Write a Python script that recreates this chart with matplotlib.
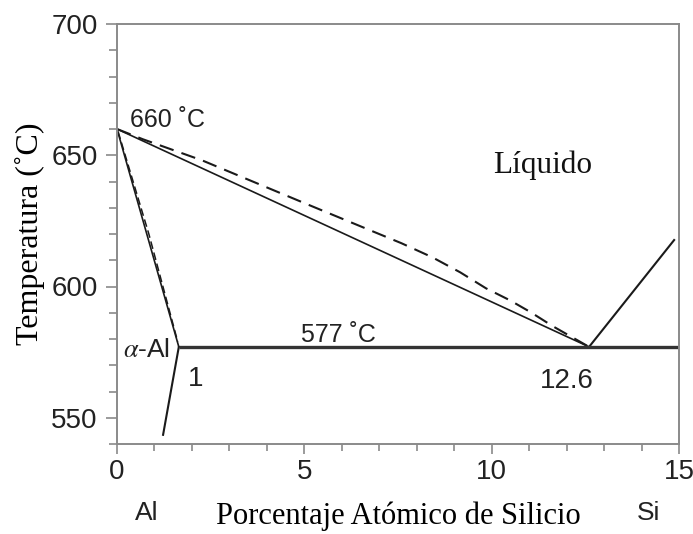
import matplotlib
matplotlib.use("Agg")
import matplotlib.pyplot as plt
from matplotlib.ticker import MultipleLocator

plt.rcParams["mathtext.fontset"] = "stix"

# Al-Si phase diagram (Al-rich side)
x_ticks = [0, 5, 10, 15]
y_ticks = [550, 600, 650, 700]

t_melt_al = 660.0          # melting point of pure Al
t_eutectic = 577.0         # eutectic temperature
x_eutectic = 12.6          # eutectic composition (at. % Si)
x_alpha_max = 1.65         # maximum solubility of Si in alpha-Al

# liquidus (solid line) on the Al side
liq_x = [0.0, x_eutectic]
liq_t = [t_melt_al, t_eutectic]

# alternative liquidus (dashed curve)
liq2_x = [0.0, 0.69, 2.28, 5.03, 7.59, 8.42, 9.16, 9.85, 10.48, 11.03, 11.64, 12.6]
liq2_t = [660.0, 656.1, 648.0, 631.6, 616.5, 611.1, 605.4, 599.3, 594.8, 590.3, 584.8, 577.0]

# solidus (solid) and alternative solidus (dashed)
sol_x = [0.0, x_alpha_max]
sol_t = [t_melt_al, t_eutectic]
sol2_x = [0.03, 0.85, 1.62]
sol2_t = [659.0, 620.0, 579.0]

# solvus below the eutectic
solv_x = [x_alpha_max, 1.23]
solv_t = [t_eutectic, 543.5]

# Si-side liquidus
si_liq_x = [x_eutectic, 14.87]
si_liq_t = [t_eutectic, 617.7]

# eutectic isotherm
eut_x = [x_alpha_max, 15.0]
eut_t = [t_eutectic, t_eutectic]

fig = plt.figure(figsize=(6.93, 5.34), dpi=100)
ax = fig.add_axes([117 / 693, 1 - 444 / 534, (679 - 117) / 693, (444 - 24) / 534])

ink = "#1a1a1a"
ax.plot(liq_x, liq_t, color=ink, lw=1.2)
ax.plot(liq2_x, liq2_t, color=ink, lw=1.5, dashes=(7, 4))
ax.plot(sol_x, sol_t, color=ink, lw=1.2)
ax.plot(sol2_x, sol2_t, color=ink, lw=1.1, dashes=(5, 2.5))
ax.plot(solv_x, solv_t, color=ink, lw=1.5)
ax.plot(si_liq_x, si_liq_t, color=ink, lw=1.5)
ax.plot(eut_x, eut_t, color="#333333", lw=2.4, solid_capstyle="butt")

ax.set_xlim(0, 15)
ax.set_ylim(540, 700)
ax.set_xticks(x_ticks)
ax.set_yticks(y_ticks)
ax.xaxis.set_minor_locator(MultipleLocator(1))
ax.yaxis.set_minor_locator(MultipleLocator(10))

spine_c = "#8a8a8a"
for s in ax.spines.values():
    s.set_color(spine_c)
    s.set_linewidth(1.4)

sans = ["Liberation Sans", "DejaVu Sans"]
serif = ["Liberation Serif", "DejaVu Serif"]

ax.tick_params(which="both", direction="out", color=spine_c, width=1.2,
               top=False, right=False)
ax.tick_params(axis="y", which="major", length=8, pad=6)
ax.tick_params(axis="y", which="minor", length=6)
ax.tick_params(axis="x", which="major", length=7, pad=4)
ax.tick_params(axis="x", which="minor", length=5)
for lab in ax.get_xticklabels() + ax.get_yticklabels():
    lab.set_fontfamily(sans)
    lab.set_fontsize(20)
    lab.set_color("#222222")

ax.set_xlabel("Porcentaje Atómico de Silicio", family=serif, fontsize=22, labelpad=12)
ax.set_ylabel("Temperatura (˚C)", family=serif, fontsize=23, labelpad=4)

ax.text(0.35, 660.8, "660 ˚C", family=sans, fontsize=18, va="baseline", color="#222222")
ax.text(4.9, 579.0, "577 ˚C", family=sans, fontsize=18, va="baseline", color="#222222")
ax.text(10.05, 643.3, "Líquido", family=serif, fontsize=22.5, va="baseline", color="#111111")
ax.text(0.15, 573.2, r"$\alpha$-Al", family=sans, fontsize=19, va="baseline", color="#222222")
ax.text(1.9, 562.0, "1", family=sans, fontsize=20, va="baseline", color="#222222")
ax.text(x_eutectic + 0.13, 561.4, "12.6", family=sans, fontsize=20, va="baseline",
        ha="right", color="#222222")

# element labels under the composition axis
ax.text(0.8, -0.182, "Al", transform=ax.get_xaxis_transform(), family=sans,
        fontsize=19, ha="center", va="baseline", color="#222222")
ax.text(14.2, -0.182, "Si", transform=ax.get_xaxis_transform(), family=sans,
        fontsize=19, ha="center", va="baseline", color="#222222")

fig.savefig("out.png", dpi=100)
